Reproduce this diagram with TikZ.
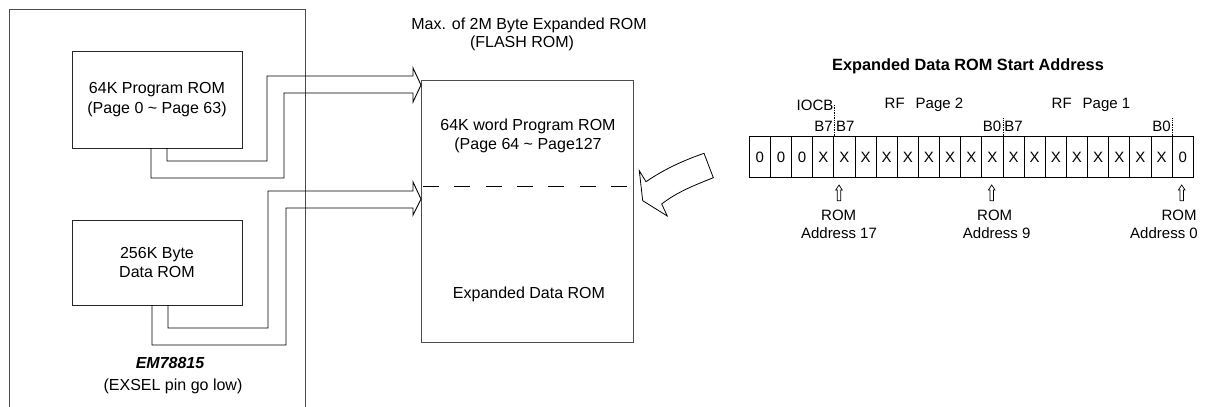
\documentclass[tikz,border=0pt]{standalone}
\usepackage{fontspec}
\setmainfont{Liberation Sans}
\begin{document}
\begin{tikzpicture}[x=1pt,y=-1pt,
  frame/.style={draw=black!70, line width=1pt},
  blk/.style={draw=black!85, line width=0.9pt, inner sep=0, outer sep=0, align=center,
    font=\fontsize{16}{19.5}\selectfont},
  lbl/.style={font=\fontsize{16}{19}\selectfont, inner sep=0, align=center},
  sm/.style={font=\fontsize{15}{18}\selectfont, inner sep=0},
  cell/.style={draw, line width=0.8pt, minimum width=21.14pt, minimum height=41.7pt,
    inner sep=0, outer sep=0, font=\fontsize{15}{18}\selectfont},
  fat/.style={draw, line width=0.9pt, line join=miter},
  marker/.style={densely dotted, line width=0.7pt},
  uparr/.pic={\draw[line width=0.7pt] (0,0) -- (3.3,5) -- (1.8,5) -- (1.8,15.7) -- (-1.8,15.7) -- (-1.8,5) -- (-3.3,5) -- cycle;}]
\useasboundingbox (0,0) rectangle (1208,407);

% EM78815 chip outline (bottom edge outside the picture)
\draw[frame] (9,407) -- (9,9) -- (305,9) -- (305,407);

\node[blk, minimum width=170pt, minimum height=97pt] (prog) at (157,99.5)
  {64K Program ROM\\(Page 0 \textasciitilde{} Page 63)};
\node[blk, minimum width=170pt, minimum height=85pt] (data) at (157,262.5)
  {256K Byte\\Data ROM};
\node[lbl] (chip) at (170,363) {\bfseries\itshape EM78815};
\node[lbl] (exsel) at (173,386) {(EXSEL pin go low)};

% Expanded flash ROM
\node[draw=black!70, line width=1pt, minimum width=212pt, minimum height=262pt,
  inner sep=0, outer sep=0] (flash) at (527,211) {};
\node[lbl] (maxt) at (529,25) {Max. of 2M Byte Expanded ROM};
\node[lbl] (flasht) at (522,43) {(FLASH ROM)};
\node[lbl] (ptext) at (528,136) {64K word Program ROM\\(Page 64 \textasciitilde{} Page127};
\node[lbl] (dtext) at (529,294) {Expanded Data ROM};
\coordinate (dl) at (flash.west |- 0,186);
\coordinate (dr) at (flash.east |- 0,186);
\draw[dash pattern=on 16pt off 15.3pt, line width=0.9pt] ([xshift=2pt]dl) -- ([xshift=-6pt]dr);

% fat arrow: program ROM -> flash
\draw[fat] ([xshift=79pt]prog.south west) -- (151,178) -- (284,178) -- (284,93) -- (413,93)
  -- (413,102) -- (flash.west |- 0,85) -- (413,68) -- (413,76) -- (267,76) -- (267,161)
  -- (167,161) -- ([xshift=95pt]prog.south west);
% fat arrow: data ROM -> flash
\draw[fat] ([xshift=80pt]data.south west) -- (152,345) -- (286,345) -- (286,208) -- (413,208)
  -- (413,215) -- (flash.west |- 0,199) -- (413,182) -- (413,191) -- (268,191) -- (268,328)
  -- (168,328) -- ([xshift=96pt]data.south west);

% curved block arrow pointing into flash
\draw[line width=0.8pt, line join=miter] (646,181.7) .. controls (666,168) and (685,160) .. (704,153.3)
  -- (713.3,177.7) .. controls (695,185) and (677,192) .. (661.7,204) -- (667.3,216)
  -- (642.7,200.7) -- (639.3,170.7) -- cycle;

% start address register
\node[font=\fontsize{16.3}{18}\selectfont\bfseries, inner sep=0] (title) at (968,66)
  {Expanded Data ROM Start Address};
\foreach \v [count=\i] in {0,0,0,X,X,X,X,X,X,X,X,X,X,X,X,X,X,X,X,X,0} {
  \node[cell] (c\i) at ({749.3+21.14*(\i-0.5)},157) {\v};
}
\draw[marker] (c4.north east) -- ++(0,-31);
\draw[marker] (c12.north east) -- ++(0,-18);
\draw[marker] (c20.north east) -- ++(0,-18);

\node[sm] (iocb) at (815,105) {IOCB};
\node[sm] (rf2) at (924,105) {RF\hspace{11pt}Page 2};
\node[sm] (rf1) at (1091,105) {RF\hspace{11pt}Page 1};
\node[sm, anchor=east] (b7a) at (832.8,126) {B7};
\node[sm, anchor=west] (b7b) at (835.8,126) {B7};
\node[sm, anchor=east] (b0a) at (1001.5,126) {B0};
\node[sm, anchor=west] (b7c) at (1004.2,126) {B7};
\node[sm, anchor=east] (b0b) at (1171,126) {B0};

\pic at (839,185) {uparr};
\pic at (991.7,185) {uparr};
\pic at (1181.7,185) {uparr};

\node[sm] (r17) at (838.7,215) {ROM};
\node[sm] (a17) at (839,232.7) {Address 17};
\node[sm] (r9) at (994.7,215) {ROM};
\node[sm] (a9) at (996.7,232.7) {Address 9};
\node[sm] (r0) at (1179,215) {ROM};
\node[sm] (a0) at (1164,232.7) {Address 0};
\end{tikzpicture}
\end{document}
